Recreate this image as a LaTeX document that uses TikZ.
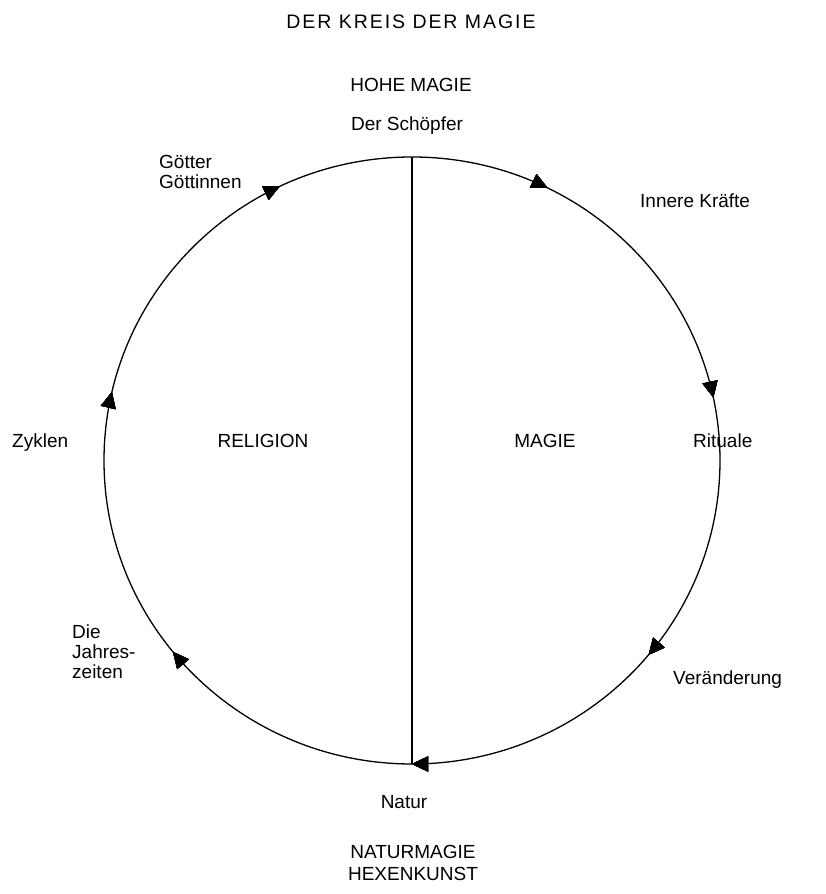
\documentclass[tikz,border=0pt]{standalone}
\usepackage{fontspec}
\setmainfont{Liberation Sans}
\usetikzlibrary{decorations.markings,arrows.meta}
\begin{document}
\begin{tikzpicture}[x=1pt,y=1pt,
  lbl/.style={inner sep=0pt,font=\fontsize{19}{20}\selectfont},
  cl/.style={lbl,anchor=base},
  ll/.style={lbl,anchor=base west,align=left},
  ringarrow/.style={decoration={markings,
    mark=at position #1 with {\arrowreversed{Triangle[length=16pt,width=15pt]}}},
    postaction={decorate}},
  ring/.style={line width=1.3pt,
    ringarrow=0.033, ringarrow=0.177, ringarrow=0.321, ringarrow=0.464,
    ringarrow=0.608, ringarrow=0.75, ringarrow=0.89}]
\useasboundingbox (0,0) rectangle (825,894);
\coordinate (C) at (412,433.5);
\coordinate (top) at (412,737);
\coordinate (bot) at (412,130);
\draw[ring] (C) ellipse [x radius=308, y radius=303.5];
\draw[line width=1.3pt] (top) -- (bot);
\node[cl,font=\fontsize{19.5}{20}\selectfont\addfontfeature{LetterSpace=10}] (title) at (411,865) {DER KREIS DER MAGIE};
\node[cl] (hohe) at (411,802) {HOHE MAGIE};
\node[cl] (schoepfer) at (407,763) {Der Schöpfer};
\node[ll] (goetter) at (159,705) {Götter\\Göttinnen};
\node[ll] (innere) at (640,686) {Innere Kräfte};
\node[ll] (zyklen) at (12,446) {Zyklen};
\node[cl] (religion) at (263,446) {RELIGION};
\node[cl] (magie) at (545,446) {MAGIE};
\node[ll] (rituale) at (693,446) {Rituale};
\node[ll] (jahres) at (72,215) {Die\\Jahres-\\zeiten};
\node[ll] (veraend) at (673,209) {Veränderung};
\node[cl] (natur) at (404,85) {Natur};
\node[cl] (naturmagie) at (413,35) {NATURMAGIE};
\node[cl] (hexen) at (413,13) {HEXENKUNST};
\end{tikzpicture}
\end{document}
